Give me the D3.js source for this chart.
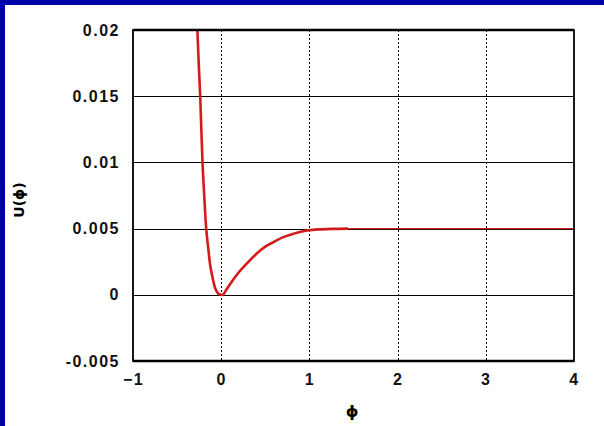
<!DOCTYPE html>
<html><head><meta charset="utf-8">
<script src="https://cdn.jsdelivr.net/npm/d3@7"></script>
<style>
html,body{margin:0;padding:0;background:#fff;}
svg{display:block;}
</style></head>
<body>
<svg id="c" width="604" height="426"></svg>
<script>
// Data
const xTicks = [-1, 0, 1, 2, 3, 4];
const yTicks = [-0.005, 0, 0.005, 0.01, 0.015, 0.02];
const yTickLabels = ["-0.005", "0", "0.005", "0.01", "0.015", "0.02"];
const phiThick = [-0.27, -0.255, -0.238, -0.212, -0.19, -0.17, -0.145, -0.125, -0.095, -0.068, -0.035, 0, 0.02, 0.06, 0.12, 0.2, 0.31, 0.4, 0.5, 0.6, 0.69, 0.8, 0.88, 0.99, 1.1, 1.25, 1.44];
const uThick   = [0.02, 0.0175, 0.015, 0.01, 0.0072, 0.005, 0.0034, 0.00225, 0.0012, 0.0005, 0.0001, 0, 0, 0.0004, 0.00099, 0.0017, 0.0025, 0.0031, 0.00364, 0.004, 0.00432, 0.00457, 0.00472, 0.00487, 0.00494, 0.00498, 0.005];
const phiThin = [1.44, 4];
const uThin   = [0.005, 0.005];

const svg = d3.select("#c");
const W = 604, H = 426;
const m = {left:133, right:574, top:30, bottom:361};

// blue slide border
svg.append("rect").attr("x",0).attr("y",0).attr("width",W).attr("height",5).attr("fill","#0000a8");
svg.append("rect").attr("x",0).attr("y",0).attr("width",5).attr("height",H).attr("fill","#0000a8");

const x = d3.scaleLinear().domain([-1,4]).range([m.left,m.right]);
const y = d3.scaleLinear().domain([-0.005,0.02]).range([m.bottom,m.top]);

// horizontal grid (solid)
svg.append("g").selectAll("line").data(yTicks.slice(1,-1)).join("line")
  .attr("x1",m.left).attr("x2",m.right)
  .attr("y1",d=>Math.round(y(d))+0.5).attr("y2",d=>Math.round(y(d))+0.5)
  .attr("stroke","#000").attr("stroke-width",1);
// vertical grid (dotted)
svg.append("g").selectAll("line").data(xTicks.slice(1,-1)).join("line")
  .attr("x1",d=>Math.round(x(d))+0.5).attr("x2",d=>Math.round(x(d))+0.5)
  .attr("y1",m.top).attr("y2",m.bottom)
  .attr("stroke","#000").attr("stroke-width",1).attr("stroke-dasharray","2,2");

// axes with labels
const font = "'Liberation Sans', Arial, sans-serif";
const yAxis = d3.axisLeft(y).tickValues(yTicks).tickFormat((d,i)=>yTickLabels[i]).tickSize(0).tickPadding(13);
const gy = svg.append("g").attr("transform",`translate(${m.left},0)`).call(yAxis);
gy.select(".domain").remove();
gy.selectAll("text").attr("font-family",font).attr("font-size",16).attr("font-weight","bold")
  .attr("letter-spacing","1.5px").attr("fill","#111");

const xAxis = d3.axisBottom(x).tickValues(xTicks).tickFormat(d3.format("d")).tickSize(0).tickPadding(13);
const gx = svg.append("g").attr("transform",`translate(0,${m.bottom})`).call(xAxis);
gx.select(".domain").remove();
gx.selectAll("text").attr("font-family",font).attr("font-size",16).attr("font-weight","bold")
  .attr("letter-spacing","1.5px").attr("fill","#111");

// curves
const line = d3.line().x(d=>x(d[0])).y(d=>y(d[1]));
svg.append("path").datum(phiThin.map((p,i)=>[p,uThin[i]]))
  .attr("d",line).attr("fill","none").attr("stroke","#d42020").attr("stroke-width",1.2);
const lineThick = d3.line().x(d=>x(d[0])).y(d=>y(d[1])).curve(d3.curveCatmullRom.alpha(0.5));
svg.append("path").datum(phiThick.map((p,i)=>[p,uThick[i]]))
  .attr("d",lineThick).attr("fill","none").attr("stroke","#d41a1a").attr("stroke-width",2.6);

// frame
svg.append("rect").attr("x",m.left).attr("y",m.top).attr("width",m.right-m.left).attr("height",m.bottom-m.top)
  .attr("fill","none").attr("stroke","#000").attr("stroke-width",1.8);
svg.append("line").attr("x1",m.left).attr("x2",m.right).attr("y1",m.top).attr("y2",m.top).attr("stroke","#000").attr("stroke-width",2.5);
svg.append("line").attr("x1",m.left).attr("x2",m.right).attr("y1",m.bottom).attr("y2",m.bottom).attr("stroke","#000").attr("stroke-width",2.5);

// axis titles
svg.append("text").attr("x",352).attr("y",417).attr("text-anchor","middle")
  .attr("font-family","'DejaVu Sans', sans-serif").attr("font-size",16).attr("font-weight","bold").text("ϕ");
svg.append("text").attr("transform","translate(24,200) rotate(-90)").attr("text-anchor","middle")
  .attr("font-family","'DejaVu Sans', sans-serif").attr("font-size",14).attr("font-weight","bold").text("U(ϕ)");
</script>
</body></html>
